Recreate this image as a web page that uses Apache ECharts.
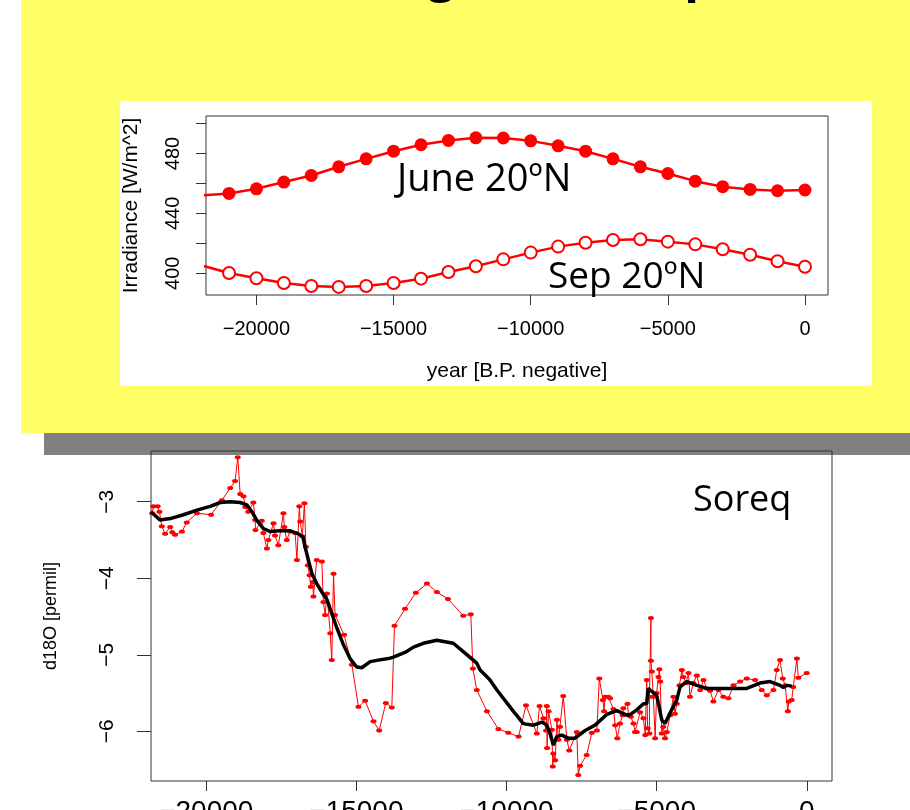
<!DOCTYPE html>
<html><head><meta charset="utf-8">
<script src="https://cdn.jsdelivr.net/npm/echarts@6/dist/echarts.min.js"></script>
<style>html,body{margin:0;padding:0;background:#fff}#c{width:910px;height:810px}</style>
</head><body><div id="c"></div><script>
// ---- Top panel: insolation at 20ºN ----
const insolYears = [-22000,-21000,-20000,-19000,-18000,-17000,-16000,-15000,-14000,-13000,-12000,-11000,-10000,-9000,-8000,-7000,-6000,-5000,-4000,-3000,-2000,-1000,0];
const juneIrradiance = [452.0,453.3,456.4,460.9,465.3,471.1,476.4,481.5,485.8,488.7,490.4,490.3,488.4,485.1,481.5,476.4,471.1,466.6,461.5,457.8,456.0,455.1,455.6];
const sepIrradiance = [405.2,400.2,396.7,393.5,391.5,390.9,391.5,393.5,396.4,400.9,404.7,409.3,413.8,417.8,420.4,422.2,422.7,421.1,419.3,416.0,412.4,408.0,404.4];
const yearTicks = [-20000,-15000,-10000,-5000,0];
const irrTicks = [400,420,440,460,480,500];
const irrLabels = [400,440,480];

// ---- Bottom panel: Soreq d18O ----
const soreqYears = [-21800,-21760,-21620,-21560,-21480,-21370,-21200,-21130,-21040,-20810,-20650,-20310,-19840,-19480,-19200,-19040,-18950,-18870,-18760,-18700,-18600,-18430,-18370,-18360,-18150,-18100,-17980,-17930,-17760,-17710,-17600,-17430,-17400,-17320,-17210,-17040,-16980,-16900,-16870,-16800,-16730,-16680,-16620,-16560,-16520,-16450,-16430,-16320,-16150,-16100,-16040,-15980,-15870,-15820,-15760,-15710,-15410,-15150,-14930,-14710,-14430,-14240,-14020,-13820,-13730,-13380,-13020,-12650,-12320,-11950,-11440,-11190,-11120,-10990,-10650,-10270,-9940,-9600,-9350,-8990,-8900,-8770,-8680,-8660,-8650,-8600,-8490,-8460,-8440,-8380,-8320,-8270,-8220,-8110,-7990,-7910,-7660,-7610,-7550,-7330,-7160,-6990,-6910,-6790,-6750,-6720,-6610,-6550,-6440,-6380,-6310,-6220,-6130,-6110,-5970,-5940,-5860,-5770,-5720,-5660,-5550,-5440,-5380,-5330,-5300,-5240,-5240,-5190,-5190,-5160,-5110,-5050,-5000,-4940,-4910,-4880,-4830,-4780,-4720,-4660,-4550,-4440,-4390,-4330,-4240,-4160,-4110,-4020,-3940,-3890,-3780,-3660,-3550,-3440,-3330,-3220,-3110,-2940,-2780,-2610,-2440,-2220,-2000,-1720,-1500,-1330,-1110,-1000,-890,-800,-720,-630,-600,-500,-450,-330,-280,0];
const soreqD18O = [-3.15,-3.06,-3.06,-3.13,-3.32,-3.42,-3.33,-3.40,-3.43,-3.39,-3.27,-3.15,-3.17,-2.98,-2.82,-2.73,-2.42,-2.90,-2.93,-3.07,-3.13,-3.01,-3.24,-3.37,-3.25,-3.41,-3.61,-3.50,-3.28,-3.44,-3.57,-3.15,-3.33,-3.50,-3.39,-3.41,-3.76,-3.06,-3.26,-3.45,-3.02,-3.59,-3.83,-3.96,-4.11,-4.05,-4.24,-3.76,-3.78,-4.31,-4.48,-4.20,-4.72,-5.07,-3.94,-4.48,-4.74,-5.13,-5.68,-5.60,-5.87,-5.99,-5.63,-5.69,-4.62,-4.40,-4.19,-4.07,-4.18,-4.27,-4.49,-4.47,-5.18,-5.46,-5.74,-5.97,-6.02,-6.07,-5.66,-6.03,-5.67,-5.83,-5.99,-5.67,-6.22,-5.74,-5.98,-6.46,-6.29,-6.38,-5.85,-6.11,-5.94,-5.54,-6.11,-6.25,-6.01,-6.57,-6.45,-6.31,-6.02,-5.99,-5.31,-5.59,-5.74,-5.55,-5.55,-5.57,-5.71,-5.92,-6.09,-5.90,-5.79,-5.70,-5.64,-5.79,-5.81,-5.90,-6.01,-6.01,-5.75,-5.83,-6.05,-5.33,-5.96,-6.03,-5.55,-4.52,-5.08,-5.22,-5.55,-6.09,-5.50,-5.29,-5.19,-5.35,-6.03,-5.94,-6.09,-6.01,-5.79,-5.55,-5.77,-5.64,-5.40,-5.20,-5.29,-5.37,-5.24,-5.55,-5.37,-5.27,-5.46,-5.33,-5.44,-5.47,-5.61,-5.46,-5.55,-5.57,-5.40,-5.35,-5.31,-5.33,-5.46,-5.53,-5.46,-5.20,-5.07,-5.31,-5.40,-5.74,-5.61,-5.59,-5.42,-5.05,-5.30,-5.24];
const smoothYears = [-21840,-21540,-21200,-20760,-20310,-19870,-19540,-19200,-18870,-18650,-18480,-18320,-18100,-17870,-17540,-17200,-16930,-16780,-16710,-16600,-16480,-16320,-16150,-15980,-15820,-15650,-15430,-15210,-14990,-14820,-14540,-14270,-13930,-13770,-13380,-13100,-12770,-12320,-11770,-11440,-10990,-10880,-10570,-10320,-9770,-9440,-9100,-8820,-8660,-8550,-8440,-8330,-8160,-7940,-7720,-7380,-7050,-6660,-6330,-5990,-5880,-5660,-5440,-5330,-5280,-5160,-5000,-4940,-4830,-4720,-4500,-4330,-4220,-4000,-3660,-3330,-2890,-2440,-2000,-1560,-1220,-890,-780,-670,-500];
const smoothD18O = [-3.13,-3.24,-3.22,-3.17,-3.11,-3.06,-3.01,-3.00,-3.01,-3.04,-3.13,-3.24,-3.35,-3.39,-3.38,-3.38,-3.42,-3.46,-3.59,-3.76,-3.94,-4.07,-4.18,-4.28,-4.46,-4.65,-4.87,-5.05,-5.16,-5.17,-5.09,-5.07,-5.05,-5.03,-4.97,-4.90,-4.85,-4.81,-4.85,-4.96,-5.11,-5.20,-5.32,-5.46,-5.74,-5.90,-5.92,-5.88,-5.92,-6.03,-6.18,-6.07,-6.05,-6.09,-6.09,-5.99,-5.92,-5.78,-5.73,-5.79,-5.78,-5.72,-5.64,-5.64,-5.44,-5.48,-5.53,-5.64,-5.85,-5.90,-5.72,-5.59,-5.42,-5.35,-5.40,-5.44,-5.44,-5.44,-5.44,-5.37,-5.35,-5.40,-5.43,-5.40,-5.41];
const d18oTicks = [-6,-5,-4,-3];

const zip = (a, b) => a.map((v, i) => [v, b[i]]);
const minus = v => String(v).replace('-', '\u2212');
const RF = '"Liberation Sans", Arial, sans-serif';

const chart = echarts.init(document.getElementById('c'), null, {renderer: 'canvas'});
chart.setOption({
  animation: false,
  backgroundColor: '#ffffff',
  graphic: [
    {type: 'rect', z: -100, shape: {x: 21, y: 0, width: 889, height: 433}, style: {fill: '#ffff66'}},
    {type: 'rect', z: -100, shape: {x: 44, y: 433, width: 866, height: 22}, style: {fill: '#808080'}},
    {type: 'rect', z: -90, shape: {x: 120, y: 101, width: 752, height: 285}, style: {fill: '#ffffff'}},
    {type: 'text', z: 50, style: {text: 'Insolation in two regions, and past', x: -39, y: -23, font: 'bold 48px "Open Sans"', fill: '#000', align: 'left', verticalAlign: 'middle'}},
    {type: 'text', z: 50, style: {text: 'June 20ºN', x: 397, y: 180, font: '38px "Open Sans"', fill: '#000', align: 'left', verticalAlign: 'middle'}},
    {type: 'text', z: 50, style: {text: 'Sep 20ºN', x: 548, y: 277, font: '37px "Open Sans"', fill: '#000', align: 'left', verticalAlign: 'middle'}},
    {type: 'text', z: 50, style: {text: 'Soreq', x: 693, y: 501, font: '36px "Open Sans"', fill: '#000', align: 'left', verticalAlign: 'middle'}}
  ],
  grid: [
    {left: 206, top: 116, width: 622, height: 179, show: true, borderColor: '#333', borderWidth: 1, backgroundColor: 'transparent', outerBoundsMode: 'none', containLabel: false},
    {left: 151, top: 451, width: 681, height: 330, show: true, borderColor: '#333', borderWidth: 1, backgroundColor: 'transparent', outerBoundsMode: 'none', containLabel: false}
  ],
  xAxis: [
    {gridIndex: 0, type: 'value', min: -21840, max: 840,
     axisLine: {show: false, onZero: false}, splitLine: {show: false},
     axisTick: {show: true, length: 10, customValues: yearTicks, lineStyle: {color: '#333'}},
     axisLabel: {customValues: yearTicks, formatter: minus, fontSize: 20, fontFamily: RF, color: '#000', margin: 24},
     name: 'year [B.P. negative]', nameLocation: 'middle', nameGap: 66,
     nameTextStyle: {fontSize: 21, fontFamily: RF, color: '#000'}},
    {gridIndex: 1, type: 'value', min: -21840, max: 840,
     axisLine: {show: false, onZero: false}, splitLine: {show: false},
     axisTick: {show: true, length: 10, customValues: yearTicks, lineStyle: {color: '#333'}},
     axisLabel: {customValues: yearTicks, formatter: minus, fontSize: 28, fontFamily: RF, color: '#000', margin: 17}}
  ],
  yAxis: [
    {gridIndex: 0, type: 'value', min: 385.5, max: 505,
     axisLine: {show: false, onZero: false}, splitLine: {show: false},
     axisTick: {show: true, length: 10, customValues: irrTicks, lineStyle: {color: '#333'}},
     axisLabel: {customValues: irrLabels, rotate: 90, fontSize: 20, fontFamily: RF, color: '#000', margin: 23},
     name: 'Irradiance [W/m^2]', nameLocation: 'middle', nameRotate: 90, nameGap: 64,
     nameTextStyle: {fontSize: 21, fontFamily: RF, color: '#000'}},
    {gridIndex: 1, type: 'value', min: -6.65, max: -2.337,
     axisLine: {show: false, onZero: false}, splitLine: {show: false},
     axisTick: {show: true, length: 14, customValues: d18oTicks, lineStyle: {color: '#333'}},
     axisLabel: {customValues: d18oTicks, formatter: minus, rotate: 90, fontSize: 21, fontFamily: RF, color: '#000', margin: 33},
     name: 'd18O [permil]', nameLocation: 'middle', nameRotate: 90, nameGap: 91,
     nameTextStyle: {fontSize: 18, fontFamily: RF, color: '#000'}}
  ],
  series: [
    {name: 'June 20ºN', type: 'line', xAxisIndex: 0, yAxisIndex: 0, data: zip(insolYears, juneIrradiance),
     symbol: 'circle', symbolSize: 13, clip: true, z: 3,
     lineStyle: {color: '#ff0000', width: 2.5}, itemStyle: {color: '#ff0000'}},
    {name: 'Sep 20ºN', type: 'line', xAxisIndex: 0, yAxisIndex: 0, data: zip(insolYears, sepIrradiance),
     symbol: 'emptyCircle', symbolSize: 12, clip: true, z: 3,
     lineStyle: {color: '#ff0000', width: 2.5}, itemStyle: {color: '#ff0000', borderColor: '#ff0000', borderWidth: 2.2}},
    {name: 'Soreq', type: 'line', xAxisIndex: 1, yAxisIndex: 1, data: zip(soreqYears, soreqD18O),
     symbol: 'circle', symbolSize: [6, 4], showAllSymbol: true, clip: true, z: 3,
     lineStyle: {color: '#ff0000', width: 1}, itemStyle: {color: '#ff0000'}},
    {name: 'Soreq smooth', type: 'line', xAxisIndex: 1, yAxisIndex: 1, data: zip(smoothYears, smoothD18O),
     symbol: 'none', clip: true, z: 4,
     lineStyle: {color: '#000000', width: 3.5}}
  ]
});
</script></body></html>
